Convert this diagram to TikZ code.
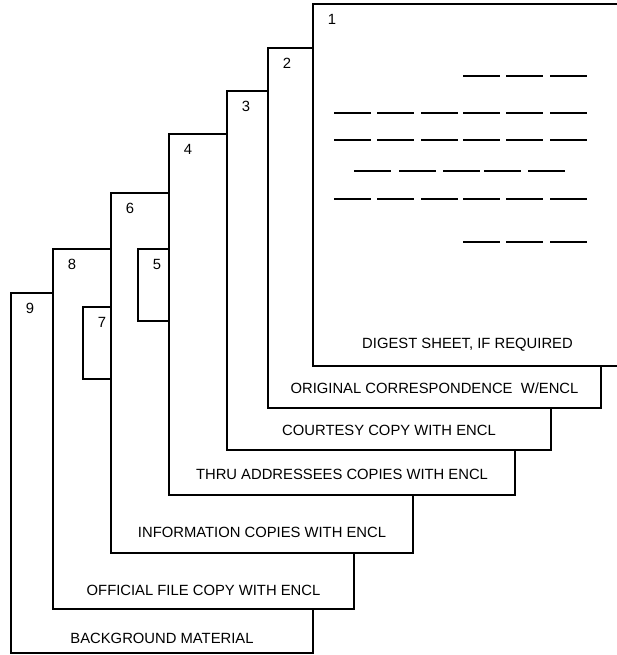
\documentclass[tikz,border=0pt]{standalone}
\usepackage{fontspec}
\setsansfont{Liberation Sans}
\usetikzlibrary{positioning}

\begin{document}
\begin{tikzpicture}[font=\sffamily\fontsize{14.8}{17}\selectfont,
    x=1pt,y=-1pt,line width=1.5pt,
    sheet/.style n args={4}{%
            draw,fill=white,
            at={(#1,#2)},anchor=north west,
            inner sep=0pt,outer sep=0pt,
            minimum width={(#3-#1)*1pt},
            minimum height={(#4-#2)*1pt}},
    sheet number/.style={inner sep=0pt,anchor=center},
    caption/.style={inner sep=0pt,anchor=base}]
    \useasboundingbox (0,0) rectangle (617,655);
    % sheets, back to front
    \path foreach \N/\L/\T/\R/\B in
       {9/11/293/313/653,8/53/249/354/609,7/83/307/250/379,
        6/111/193/413/553,5/138/249/300/321,4/169/134/515/495,
        3/227/91/551/450,2/268/48/601/408,1/313/4/622/366}
       {node[sheet={\L}{\T}{\R}{\B}] (s\N) {}
        node[sheet number] (n\N) at (\L+19,\T+15) {\N}};
    % captions
    \path foreach \N/\D/\C in
       {9/10/BACKGROUND MATERIAL,
        8/14/OFFICIAL FILE COPY WITH ENCL,
        6/16/INFORMATION COPIES WITH ENCL,
        4/16/THRU ADDRESSEES COPIES WITH ENCL,
        3/15/COURTESY COPY WITH ENCL,
        2/15/{ORIGINAL CORRESPONDENCE\ \ W/ENCL},
        1/18/{DIGEST SHEET, IF REQUIRED}}
       {node[caption] (c\N) at ([yshift=\D pt]s\N.south) {\C}};
    % text lines on the digest sheet
    \foreach \Y/\Xs in {76/{463,506,550},
        113/{334,377,421,463,506,550},
        140/{334,377,421,463,506,550},
        171/{354,399,443,484,528},
        199/{334,377,421,463,506,550},
        242/{463,506,550}}
       {\foreach \X in \Xs {\draw (\X,\Y) -- ++(37,0);}}
\end{tikzpicture}
\end{document}
